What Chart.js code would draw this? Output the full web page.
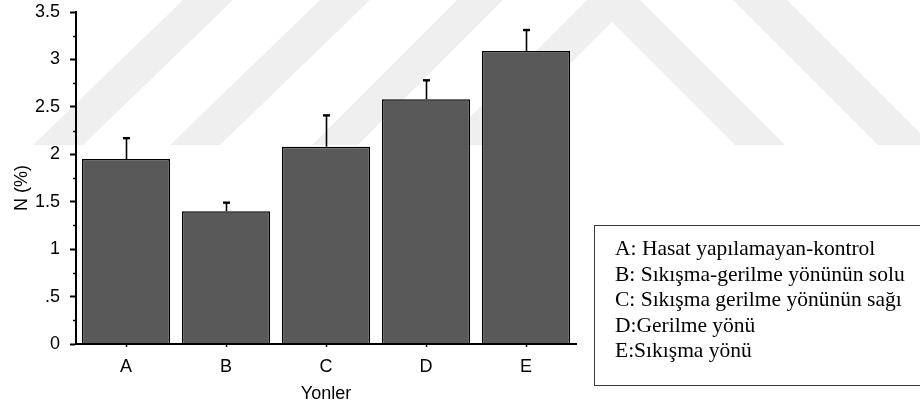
<!DOCTYPE html>
<html>
<head>
<meta charset="utf-8">
<script src="https://cdn.jsdelivr.net/npm/chart.js@4/dist/chart.umd.min.js"></script>
<style>
html,body{margin:0;padding:0;background:#fff;}
#wrap{position:relative;width:920px;height:405px;overflow:hidden;background:#fff;}
#c{position:absolute;left:0;top:0;}
#legendBox{position:absolute;left:594px;top:225px;width:400px;height:161px;box-sizing:border-box;border:1.5px solid #3a3a3a;
  font-family:"Liberation Serif","Times New Roman",serif;font-size:21.5px;line-height:25.5px;color:#000;padding:10px 0 0 20px;white-space:nowrap;}
</style>
</head>
<body>
<div id="wrap">
  <canvas id="c" width="920" height="405"></canvas>
  <div id="legendBox"></div>
</div>
<script>
// ---- data ----
const categories = ['A', 'B', 'C', 'D', 'E'];
const meanN = [1.95, 1.40, 2.08, 2.58, 3.09];
const errN = [0.22, 0.09, 0.33, 0.20, 0.22];
const yTickLabels = ['0', '.5', '1', '1.5', '2', '2.5', '3', '3.5'];
const xTitle = 'Yonler';
const yTitle = 'N (%)';
const legendLines = [
  'A: Hasat yapılamayan-kontrol',
  'B: Sıkışma-gerilme yönünün solu',
  'C: Sıkışma gerilme yönünün sağı',
  'D:Gerilme yönü',
  'E:Sıkışma yönü'
];

// legend text
const lb = document.getElementById('legendBox');
legendLines.forEach(t => { const d = document.createElement('div'); d.textContent = t; lb.appendChild(d); });

const SANS = '"Liberation Sans", Arial, sans-serif';

// background watermark (decorative)
const watermarkShapes = [
  [[33,145],[83,145],[233,0],[183,0]],
  [[170,145],[220,145],[370,0],[320,0]],
  [[312,145],[358,145],[503,0],[457,0]],
  [[442,145],[489,145],[612,22],[735,145],[785,145],[640,0],[587,0]],
  [[733,0],[787,0],[932,145],[878,145]]
];
const watermarkPlugin = {
  id: 'watermark',
  beforeDraw(chart) {
    const ctx = chart.ctx;
    ctx.save();
    ctx.fillStyle = '#efefef';
    watermarkShapes.forEach(poly => {
      ctx.beginPath();
      poly.forEach((p, i) => i ? ctx.lineTo(p[0], p[1]) : ctx.moveTo(p[0], p[1]));
      ctx.closePath();
      ctx.fill();
    });
    ctx.restore();
  }
};

const errorBarPlugin = {
  id: 'errorBars',
  afterDatasetsDraw(chart) {
    const ctx = chart.ctx;
    const y = chart.scales.y;
    const meta = chart.getDatasetMeta(0);
    ctx.save();
    ctx.strokeStyle = '#000';
    meta.data.forEach((bar, i) => {
      const x = Math.round(bar.x) + 0.5;
      const yb = y.getPixelForValue(meanN[i]);
      const yt = y.getPixelForValue(meanN[i] + errN[i]);
      ctx.lineWidth = 1.6;
      ctx.beginPath(); ctx.moveTo(x, yb); ctx.lineTo(x, yt); ctx.stroke();
      ctx.lineWidth = 2.4;
      ctx.beginPath(); ctx.moveTo(x - 3.5, yt); ctx.lineTo(x + 3.5, yt); ctx.stroke();
    });
    ctx.restore();
  }
};

const minorTickPlugin = {
  id: 'minorTicks',
  afterDraw(chart) {
    const ctx = chart.ctx;
    const y = chart.scales.y;
    ctx.save();
    ctx.strokeStyle = '#000';
    ctx.lineWidth = 1.5;
    for (let v = 0.25; v < y.max; v += 0.5) {
      const py = Math.round(y.getPixelForValue(v)) + 0.5;
      ctx.beginPath(); ctx.moveTo(y.right - 3, py); ctx.lineTo(y.right, py); ctx.stroke();
    }
    // y axis title
    ctx.fillStyle = '#000';
    ctx.font = '18px ' + SANS;
    ctx.textAlign = 'center';
    ctx.textBaseline = 'alphabetic';
    ctx.translate(27, (y.top + y.bottom) / 2 + 10);
    ctx.rotate(-Math.PI / 2);
    ctx.fillText(yTitle, 0, 0);
    ctx.restore();
  }
};

new Chart(document.getElementById('c'), {
  type: 'bar',
  data: {
    labels: categories,
    datasets: [{
      data: meanN,
      backgroundColor: '#595959',
      borderColor: '#000',
      borderWidth: 1.5,
      barPercentage: 0.88,
      categoryPercentage: 1.0
    }]
  },
  options: {
    responsive: false,
    animation: false,
    layout: { padding: { left: 0, top: 12, right: 344, bottom: 0 } },
    plugins: { legend: { display: false }, tooltip: { enabled: false } },
    scales: {
      x: {
        offset: true,
        grid: { display: true, drawOnChartArea: false, drawTicks: true, tickLength: 3, tickWidth: 1.5, tickColor: '#000', offset: false },
        border: { display: true, color: '#000', width: 2, z: 1 },
        ticks: { color: '#000', font: { family: SANS, size: 18 }, padding: 9 },
        title: { display: true, text: xTitle, color: '#000', font: { family: SANS, size: 18 }, padding: { top: 3, bottom: 0 } },
        afterFit(s) { s.height = 61; s.paddingLeft = 0; s.paddingRight = 0; }
      },
      y: {
        min: 0, max: 3.5,
        grid: { display: true, drawOnChartArea: false, drawTicks: true, tickLength: 6, tickWidth: 2, tickColor: '#000' },
        border: { display: true, color: '#000', width: 2, z: 1 },
        ticks: { stepSize: 0.5, color: '#000', font: { family: SANS, size: 18 }, padding: 10,
          callback: (v, i) => yTickLabels[i] },
        afterFit(s) { s.width = 76; s.paddingTop = 0; s.paddingBottom = 0; }
      }
    }
  },
  plugins: [watermarkPlugin, errorBarPlugin, minorTickPlugin]
});
</script>
</body>
</html>
